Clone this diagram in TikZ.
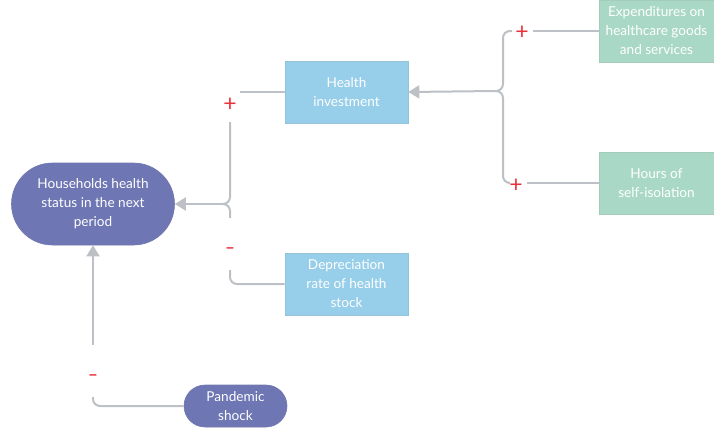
\documentclass[tikz,border=0pt]{standalone}
\usepackage{fontspec}
\setmainfont{Lato}
\usetikzlibrary{arrows.meta}
\definecolor{purp}{HTML}{6E76B4}
\definecolor{lblue}{HTML}{97CEE9}
\definecolor{lgreen}{HTML}{A9D9C6}
\definecolor{conn}{HTML}{BDC1C5}
\definecolor{sign}{HTML}{E8323C}
\begin{document}
\begin{tikzpicture}[x=1pt,y=-1pt,
  box/.style={draw=#1!85!gray, fill=#1, line width=0.6pt, text=white, align=center,
    font=\fontsize{13.6}{19}\selectfont, inner sep=0pt},
  link/.style={draw=conn, line width=2pt},
  linkr/.style={link, rounded corners=7pt},
  tip/.style={link, -{Triangle[length=11pt,width=13pt]}},
  plus/.style={text=sign, font=\fontsize{23}{23}\selectfont, inner sep=0pt},
  minus/.style={text=sign, font=\bfseries\fontsize{17}{17}\selectfont, inner sep=0pt}]
\useasboundingbox (0,0) rectangle (714,432);
% nodes
\node[box=purp, minimum width=163pt, minimum height=82pt, rounded corners=41pt] (hh) at (93,204)
  {Households health\\status in the next\\period};
\node[box=lblue, minimum width=123pt, minimum height=62pt] (hi) at (346.5,92) {Health\\investment};
\node[box=lblue, minimum width=123pt, minimum height=62pt] (dep) at (346.5,284) {Depreciation\\rate of health\\stock};
\node[box=lgreen, minimum width=115pt, minimum height=62pt] (exp) at (656.5,31) {Expenditures on\\healthcare goods\\and services};
\node[box=lgreen, minimum width=115pt, minimum height=62pt] (hours) at (656.5,183) {Hours of\\self-isolation};
\node[box=purp, minimum width=103pt, minimum height=42pt, rounded corners=21pt] (pan) at (235.5,406) {Pandemic\\shock};
% left brace
\coordinate (jl) at (222,204);
\coordinate (a1) at (240,92);
\coordinate (a2) at (230,122);
\coordinate (a3) at (230,218);
\coordinate (a4) at (230,270);
\draw[link] (hi.west) -- (a1);
\draw[linkr] (a2) |- (jl);
\draw[linkr] (jl) -| (a3);
\draw[linkr] (a4) |- (dep.west);
\draw[tip] (jl) -- (hh.east);
\node[plus] (s1) at (230,105) {+};
\node[minus] (s2) at (230,251) {–};
% right brace
\coordinate (jr) at (495,91);
\coordinate (b1) at (512,31);
\coordinate (b2) at (510,183);
\coordinate (b3) at (533,31);
\coordinate (b4) at (527,183);
\draw[linkr] (jr) -| (503,60) |- (b1);
\draw[linkr] (jr) -| (503,150) |- (b2);
\draw[link] (exp.west) -- (b3);
\draw[link] (hours.west) -- (b4);
\draw[tip] (jr) -- (hi.east);
\node[plus] (s3) at (522,33) {+};
\node[plus] (s4) at (516,186) {+};
% pandemic
\coordinate (c1) at (93,397);
\coordinate (c2) at (93,345);
\draw[linkr] (pan.west) -| (c1);
\draw[tip] (c2) -- (hh.south);
\node[minus] (s5) at (93,378) {–};
\end{tikzpicture}
\end{document}
